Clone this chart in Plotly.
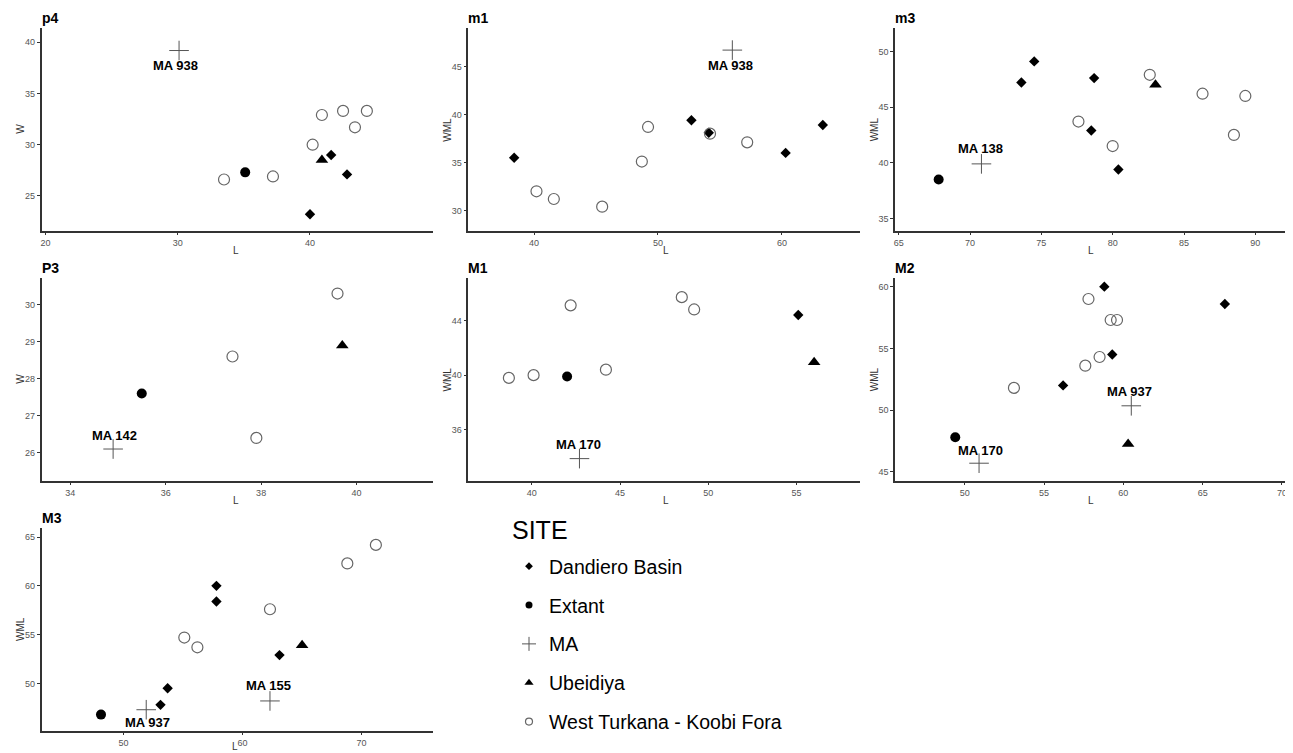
import plotly.graph_objects as go

SITES = ["Dandiero Basin", "Extant", "MA", "Ubeidiya", "West Turkana - Koobi Fora"]

# ---- data per panel (parallel arrays) ----
P4_SITE = ["Dandiero Basin"] * 3 + ["Extant", "MA", "Ubeidiya"] + ["West Turkana - Koobi Fora"] * 7
P4_L = [41.6, 42.8, 40.0, 35.1, 30.1, 40.9, 33.5, 37.2, 40.2, 40.9, 42.5, 44.3, 43.4]
P4_W = [29.0, 27.1, 23.2, 27.3, 39.2, 28.5, 26.6, 26.9, 30.0, 32.9, 33.3, 33.3, 31.7]
P4_LABEL = ["", "", "", "", "MA 938", "", "", "", "", "", "", "", ""]

m1_SITE = ["Dandiero Basin"] * 5 + ["MA"] + ["West Turkana - Koobi Fora"] * 7
m1_L = [38.4, 52.7, 54.1, 60.3, 63.3, 56.0, 40.2, 41.6, 45.5, 48.7, 49.2, 54.2, 57.2]
m1_W = [35.5, 39.4, 38.1, 36.0, 38.9, 46.7, 32.0, 31.2, 30.4, 35.1, 38.7, 38.0, 37.1]
m1_LABEL = ["", "", "", "", "", "MA 938", "", "", "", "", "", "", ""]

m3_SITE = ["Dandiero Basin"] * 5 + ["Extant", "MA", "Ubeidiya"] + ["West Turkana - Koobi Fora"] * 6
m3_L = [73.6, 74.5, 78.7, 78.5, 80.4, 67.8, 70.8, 83.0, 77.6, 80.0, 82.6, 86.3, 89.3, 88.5]
m3_W = [47.2, 49.1, 47.6, 42.9, 39.4, 38.5, 39.9, 47.0, 43.7, 41.5, 47.9, 46.2, 46.0, 42.5]
m3_LABEL = ["", "", "", "", "", "", "MA 138", "", "", "", "", "", "", ""]

P3_SITE = ["Extant", "MA", "Ubeidiya"] + ["West Turkana - Koobi Fora"] * 3
P3_L = [35.5, 34.9, 39.7, 37.4, 37.9, 39.6]
P3_W = [27.6, 26.1, 28.9, 28.6, 26.4, 30.3]
P3_LABEL = ["", "MA 142", "", "", "", ""]

M1_SITE = ["Dandiero Basin", "Extant", "MA", "Ubeidiya"] + ["West Turkana - Koobi Fora"] * 6
M1_L = [55.1, 42.0, 42.7, 56.0, 38.7, 40.1, 42.2, 44.2, 48.5, 49.2]
M1_W = [44.4, 39.9, 33.9, 40.95, 39.8, 40.0, 45.1, 40.4, 45.7, 44.8]
M1_LABEL = ["", "", "MA 170", "", "", "", "", "", "", ""]

M2_SITE = ["Dandiero Basin"] * 4 + ["Extant", "MA", "MA", "Ubeidiya"] + ["West Turkana - Koobi Fora"] * 6
M2_L = [58.8, 66.4, 59.3, 56.2, 49.4, 60.5, 50.9, 60.3, 57.8, 59.2, 59.6, 58.5, 57.6, 53.1]
M2_W = [60.0, 58.6, 54.5, 52.0, 47.8, 50.35, 45.7, 47.25, 59.0, 57.3, 57.3, 54.3, 53.6, 51.8]
M2_LABEL = ["", "", "", "", "", "MA 937", "MA 170", "", "", "", "", "", "", ""]

M3_SITE = ["Dandiero Basin"] * 5 + ["Extant", "MA", "MA", "Ubeidiya"] + ["West Turkana - Koobi Fora"] * 5
M3_L = [53.1, 53.7, 57.8, 57.8, 63.1, 48.1, 51.9, 62.3, 65.0, 55.1, 56.2, 62.3, 68.8, 71.2]
M3_W = [47.8, 49.5, 60.0, 58.4, 52.9, 46.8, 47.3, 48.2, 53.9, 54.7, 53.7, 57.6, 62.3, 64.2]
M3_LABEL = ["", "", "", "", "", "", "MA 937", "MA 155", "", "", "", "", "", ""]

# ---- styling ----
FONT = "Liberation Sans, Arial, sans-serif"
PAGE_OFF = 8                      # browser default body margin
FW, FH = 1293 - PAGE_OFF, 753 - PAGE_OFF


def fx(px):
    return (px - PAGE_OFF) / FW


def fy(py):
    return 1 - (py - PAGE_OFF) / FH


STYLE = {
    "Dandiero Basin": dict(symbol="diamond", size=8, color="black", line=dict(width=0)),
    "Extant": dict(symbol="circle", size=10, color="black", line=dict(width=0)),
    "MA": dict(symbol="cross-thin-open", size=14, color="#555555", line=dict(width=1, color="#555555")),
    "Ubeidiya": dict(symbol="triangle-up", size=11, color="black", line=dict(width=0)),
    "West Turkana - Koobi Fora": dict(symbol="circle-open", size=11, color="#666666", line=dict(width=1.2, color="#666666")),
}
LEG_SIZE = {"Dandiero Basin": 6, "Extant": 7, "MA": 10, "Ubeidiya": 8, "West Turkana - Koobi Fora": 7}

LABEL_SHIFT = {
    ("p4", "MA 938"): (-4, -15), ("m1", "MA 938"): (-2, -15), ("m3", "MA 138"): (-1, 15),
    ("P3", "MA 142"): (1, 14), ("M1", "MA 170"): (-1, 14), ("M2", "MA 937"): (-2, 14),
    ("M2", "MA 170"): (1, 13), ("M3", "MA 937"): (1, -13), ("M3", "MA 155"): (-1, 15),
}

rows_px = [(28, 230.7), (278, 480.5), (528.3, 730.7)]
cols_px = [(41.5, 433), (468.3, 860), (895, 1286.7)]
XTITLE_GAP = [20, 20, 15.5]       # last row: keep the title inside the page
XTITLE_DX = [-1.5, 1.5, 0]        # small nudges clear of the nearest tick label

PANELS = [
    dict(name="p4", L=P4_L, W=P4_W, S=P4_SITE, lab=P4_LABEL, ytitle="W", xr=[19.7, 49.3], yr=[21.6, 41.4], dx=10, dy=5, r=0, c=0),
    dict(name="m1", L=m1_L, W=m1_W, S=m1_SITE, lab=m1_LABEL, ytitle="WML", xr=[34.7, 66.3], yr=[27.9, 49.0], dx=10, dy=5, r=0, c=1),
    dict(name="m3", L=m3_L, W=m3_W, S=m3_SITE, lab=m3_LABEL, ytitle="WML", xr=[64.74, 92.2], yr=[33.9, 52.1], dx=5, dy=5, r=0, c=2),
    dict(name="P3", L=P3_L, W=P3_W, S=P3_SITE, lab=P3_LABEL, ytitle="W", xr=[33.4, 41.6], yr=[25.25, 30.72], dx=2, dy=1, r=1, c=0),
    dict(name="M1", L=M1_L, W=M1_W, S=M1_SITE, lab=M1_LABEL, ytitle="WML", xr=[36.4, 58.6], yr=[32.3, 47.1], dx=5, dy=4, r=1, c=1),
    dict(name="M2", L=M2_L, W=M2_W, S=M2_SITE, lab=M2_LABEL, ytitle="WML", xr=[45.6, 70.3], yr=[44.3, 60.7], dx=5, dy=5, r=1, c=2),
    dict(name="M3", L=M3_L, W=M3_W, S=M3_SITE, lab=M3_LABEL, ytitle="WML", xr=[43.1, 76.0], yr=[45.15, 65.9], dx=10, dy=5, r=2, c=0),
]

fig = go.Figure()
annotations = []
layout = {}
TITLE_FONT = dict(family=FONT, size=10, color="#333333")

for i, p in enumerate(PANELS, start=1):
    xa = "x" if i == 1 else f"x{i}"
    ya = "y" if i == 1 else f"y{i}"
    xkey = "xaxis" if i == 1 else f"xaxis{i}"
    ykey = "yaxis" if i == 1 else f"yaxis{i}"
    top, bot = rows_px[p["r"]]
    left, right = cols_px[p["c"]]
    common = dict(showline=True, linecolor="#333333", linewidth=1.5, ticks="outside", ticklen=3,
                  tickwidth=1, tickcolor="#333333", showgrid=False, zeroline=False,
                  ticklabeloverflow="allow",
                  tickfont=dict(family=FONT, size=9, color="#555555"))
    layout[xkey] = dict(common, domain=[fx(left), fx(right)], range=p["xr"], dtick=p["dx"], tick0=0, anchor=ya)
    layout[ykey] = dict(common, domain=[fy(bot), fy(top)], range=p["yr"], dtick=p["dy"], tick0=0, anchor=xa)
    for s in SITES:
        idx = [k for k, v in enumerate(p["S"]) if v == s]
        if not idx:
            continue
        st = STYLE[s]
        fig.add_trace(go.Scatter(
            x=[p["L"][k] for k in idx], y=[p["W"][k] for k in idx], mode="markers",
            marker=dict(symbol=st["symbol"], size=st["size"], color=st["color"], line=st["line"]),
            xaxis=xa, yaxis=ya, showlegend=False, name=s, legendgroup=s, hoverinfo="x+y+name"))
    for k, lab in enumerate(p["lab"]):
        if lab:
            xs, ys = LABEL_SHIFT[(p["name"], lab)]
            annotations.append(dict(x=p["L"][k], y=p["W"][k], xref=xa, yref=ya, text=f"<b>{lab}</b>",
                                    showarrow=False, xshift=xs, yshift=ys,
                                    font=dict(family=FONT, size=13, color="black")))
    # panel title
    annotations.append(dict(x=fx(left - 2), y=fy(top - 10), xref="paper", yref="paper",
                            text=f"<b>{p['name']}</b>", showarrow=False, xanchor="left", yanchor="middle",
                            font=dict(family=FONT, size=14, color="black")))
    # axis titles
    dxl = XTITLE_DX[p["c"]] if p["r"] < 2 else -2
    annotations.append(dict(x=fx((left + right) / 2 + dxl), y=fy(bot + XTITLE_GAP[p["r"]]),
                            xref="paper", yref="paper", text="L", showarrow=False,
                            xanchor="center", yanchor="middle", font=TITLE_FONT))
    annotations.append(dict(x=fx(left - 21), y=fy((top + bot) / 2), xref="paper", yref="paper",
                            text=p["ytitle"], showarrow=False, xanchor="center", yanchor="middle",
                            textangle=-90, font=TITLE_FONT))

# legend title
annotations.append(dict(x=fx(510), y=fy(530), xref="paper", yref="paper", text="SITE", showarrow=False,
                        xanchor="left", yanchor="middle", font=dict(family=FONT, size=25, color="black")))

# legend entries (marker styles shown smaller in the key)
for s in SITES:
    st = STYLE[s]
    fig.add_trace(go.Scatter(
        x=[None], y=[None], mode="markers", name=s, legendgroup=s, showlegend=True,
        marker=dict(symbol=st["symbol"], size=LEG_SIZE[s], color=st["color"], line=st["line"])))

fig.update_layout(
    width=FW, height=FH, margin=dict(l=0, r=0, t=0, b=0),
    paper_bgcolor="white", plot_bgcolor="white",
    annotations=annotations,
    legend=dict(x=fx(509), y=fy(547), xanchor="left", yanchor="top",
                font=dict(family=FONT, size=19.5, color="black"), tracegroupgap=10.5,
                bgcolor="rgba(0,0,0,0)"),
    **layout,
)

fig.write_html("out.html")
